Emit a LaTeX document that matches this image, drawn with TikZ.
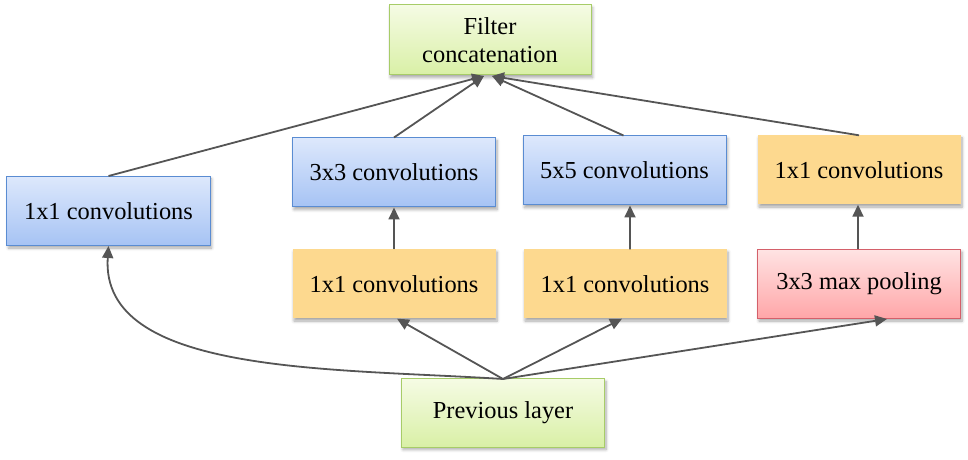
\documentclass[tikz,border=0pt]{standalone}
\usepackage{fontspec}
\setmainfont{Liberation Serif}
\newfontfamily\boxfont{Liberation Serif}
\usetikzlibrary{arrows.meta,shadows.blur,calc}
\definecolor{bluetop}{HTML}{DDE8FC}
\definecolor{bluebot}{HTML}{A6C3F4}
\definecolor{blueedge}{HTML}{5A8CD2}
\definecolor{orangefill}{HTML}{FDD98F}
\definecolor{redtop}{HTML}{FFE3E3}
\definecolor{redbot}{HTML}{FFA6A8}
\definecolor{rededge}{HTML}{D4606A}
\definecolor{greentop}{HTML}{F5FBE4}
\definecolor{greenbot}{HTML}{D9F0A6}
\definecolor{greenedge}{HTML}{A7CC68}
\definecolor{arrowgray}{HTML}{555555}
\tikzset{
  box/.style={minimum width=203bp, minimum height=69bp, inner sep=0pt,
    align=center, font=\boxfont\fontsize{24.5}{28}\selectfont,
    blur shadow={shadow xshift=1.5bp, shadow yshift=-2.5bp, shadow blur steps=6, shadow opacity=35, shadow blur radius=3bp}},
  bluebox/.style={box, draw=blueedge, line width=1bp, top color=bluetop, bottom color=bluebot},
  orangebox/.style={box, fill=orangefill},
  redbox/.style={box, draw=rededge, line width=1bp, top color=redtop, bottom color=redbot},
  greenbox/.style={box, draw=greenedge, line width=1bp, top color=greentop, bottom color=greenbot},
  conn/.style={draw=arrowgray, line width=1.8bp, -{Triangle[length=12bp,width=11bp]}, fill=arrowgray},
}
\begin{document}
\begin{tikzpicture}[x=1bp,y=-1bp]
\useasboundingbox (0,0) rectangle (968,460);
\node[greenbox, minimum width=202bp, minimum height=70bp] (filter) at (490,40) {Filter\\concatenation};
\node[bluebox] (c1) at (108.5,211) {1x1 convolutions};
\node[bluebox] (c3) at (394,172.5) {3x3 convolutions};
\node[bluebox] (c5) at (624.5,170.5) {5x5 convolutions};
\node[orangebox] (pc) at (859,170) {1x1 convolutions};
\node[orangebox] (r3) at (394,284) {1x1 convolutions};
\node[orangebox] (r5) at (625,284) {1x1 convolutions};
\node[redbox] (pool) at (859,284) {3x3 max pooling};
\node[greenbox, minimum height=68bp] (prev) at (503,413) {Previous layer};
\coordinate (fl) at (484,76);
\coordinate (fr) at (492,76);
\coordinate (pt) at (503,379);
% to filter concatenation
\draw[conn] (c1.north) -- (fl);
\draw[conn] (c3.north) -- (fl);
\draw[conn] ($(c5.north)+(-1,0)$) -- (fr);
\draw[conn] (pc.north) -- (fr);
% vertical
\draw[conn] (r3.north) -- (c3.south);
\draw[conn] ($(r5.north)+(5,0)$) -- ($(c5.south)+(5.5,0)$);
\draw[conn] ($(pool.north)+(-1,0)$) -- ($(pc.south)+(-1,0)$);
% from previous layer
\draw[conn] (pt) -- ($(r3.south)+(3,0)$);
\draw[conn] (pt) -- ($(r5.south)+(-3,0)$);
\draw[conn] (pt) -- ($(pool.south)+(28,0)$);
\draw[conn, fill=none] (pt) .. controls (330,368) and (100,375) .. (c1.south);
\end{tikzpicture}
\end{document}
